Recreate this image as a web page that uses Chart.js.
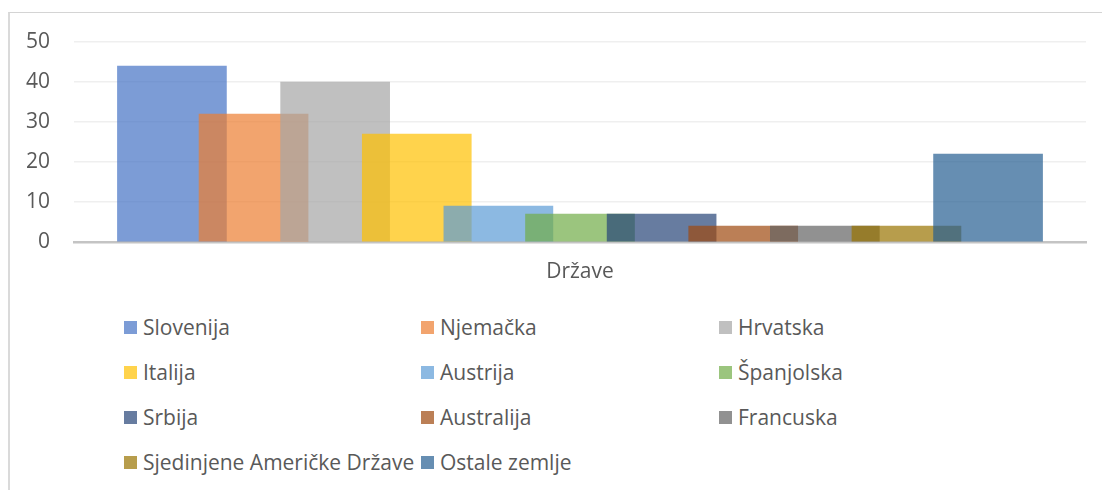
<!DOCTYPE html>
<html>
<head>
<meta charset="utf-8">
<script src="https://cdn.jsdelivr.net/npm/chart.js@4/dist/chart.umd.min.js"></script>
<style>
  body { margin: 0; background: #fff; font-family: "Open Sans", sans-serif; }
  #frame { position: absolute; left: 8px; top: 12px; width: 1200px; height: 600px;
           border-left: 2px solid #dadada; border-top: 1px solid #d4d4d4; }
  #c { position: absolute; left: 0; top: 0; }
  #legend { position: absolute; left: 0; top: 0; }
  .item { position: absolute; display: flex; align-items: center; white-space: nowrap;
          font-size: 21px; color: #595959; height: 26px; }
  .box { width: 13px; height: 13px; margin-right: 6px; }
</style>
</head>
<body>
<div id="frame"></div>
<canvas id="c" width="1102" height="290"></canvas>
<div id="legend"></div>
<script>
// data
const countries = ['Slovenija', 'Njemačka', 'Hrvatska', 'Italija', 'Austrija', 'Španjolska',
  'Srbija', 'Australija', 'Francuska', 'Sjedinjene Američke Države', 'Ostale zemlje'];
const counts = [44, 32, 40, 27, 9, 7, 7, 4, 4, 4, 22];
const axisTitle = 'Države';
const yTicks = [0, 10, 20, 30, 40, 50];

// office palette, drawn at 70% opacity
const palette = ['#4472C4', '#ED7D31', '#A5A5A5', '#FFC000', '#5B9BD5', '#70AD47',
  '#264478', '#9E480E', '#636363', '#997300', '#255E91'];
const fade = (hex, a) => {
  const n = parseInt(hex.slice(1), 16);
  return `rgba(${n >> 16}, ${(n >> 8) & 255}, ${n & 255}, ${a})`;
};

const datasets = countries.map((name, i) => ({
  label: name,
  data: [{ x: i, y: counts[i] }],
  backgroundColor: fade(palette[i], 0.7),
  borderWidth: 0,
  order: -i // later series sit on top, like the excel overlap
}));

const chart = new Chart(document.getElementById('c'), {
  type: 'bar',
  data: { datasets },
  options: {
    responsive: false,
    animation: false,
    layout: { padding: { top: 42, right: 16, left: 0, bottom: 0 } },
    plugins: { legend: { display: false }, tooltip: { enabled: false } },
    datasets: { bar: { grouped: false, barThickness: 109 } },
    scales: {
      x: {
        type: 'linear',
        offset: false,
        min: -1.2,
        max: countries.length - 1 + 1.2,
        ticks: { display: false },
        grid: { display: false, drawTicks: false },
        border: { display: true, color: '#c4c4c4', width: 2.5 },
        title: {
          display: true, text: axisTitle, color: '#595959',
          font: { family: 'Open Sans', size: 21 }, padding: { top: 0, bottom: 5 }
        },
        afterFit: s => { s.height = 48; }
      },
      y: {
        min: yTicks[0],
        max: yTicks[yTicks.length - 1],
        afterBuildTicks: s => { s.ticks = yTicks.map(v => ({ value: v })); },
        ticks: { color: '#595959', font: { family: 'Open Sans', size: 21 }, padding: 24 },
        grid: { color: '#efefef', lineWidth: 1.5, drawTicks: false },
        border: { display: false },
        afterFit: s => { s.width = 74; }
      }
    }
  }
});

// legend in three columns, like the original
const legend = document.getElementById('legend');
const colX = [124, 421, 719];
const rowY = [327, 372, 417, 462];
chart.data.datasets.forEach((ds, i) => {
  const el = document.createElement('div');
  el.className = 'item';
  el.style.left = colX[i % 3] + 'px';
  el.style.top = (rowY[Math.floor(i / 3)] - 13) + 'px';
  const box = document.createElement('span');
  box.className = 'box';
  box.style.background = ds.backgroundColor;
  el.appendChild(box);
  el.appendChild(document.createTextNode(ds.label));
  legend.appendChild(el);
});
</script>
</body>
</html>
